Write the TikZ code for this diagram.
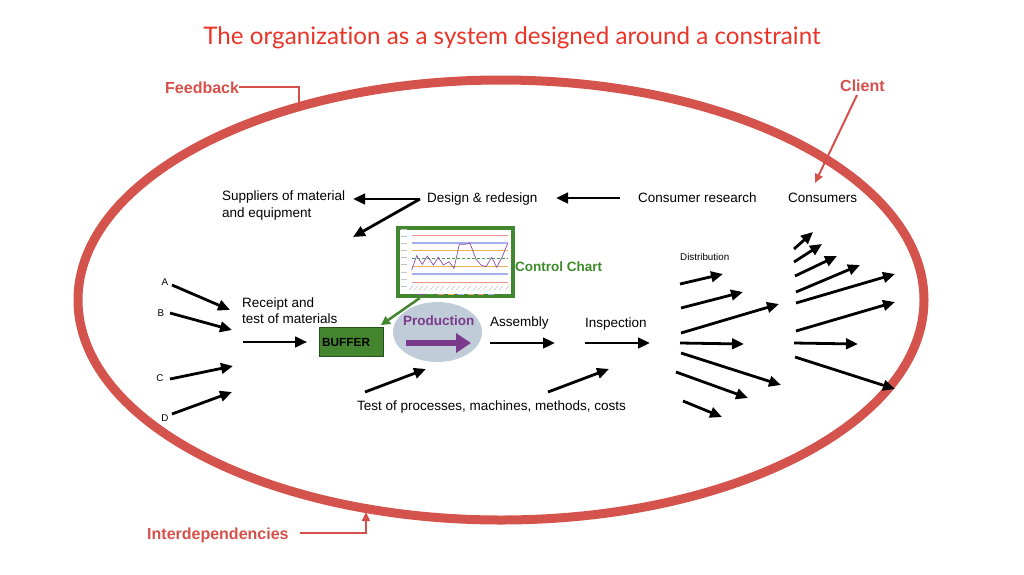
\documentclass[tikz,border=0pt]{standalone}
\usepackage{fontspec}
\setmainfont{Liberation Sans}
\newfontfamily\titlefont[Ligatures={NoCommon,NoDiscretionary}]{Lato}
\usetikzlibrary{arrows.meta,calc,shapes.geometric}
\definecolor{ellred}{RGB}{213,83,77}
\definecolor{lblred}{RGB}{214,80,74}
\definecolor{titlered}{RGB}{234,52,40}
\definecolor{chartgreen}{RGB}{66,135,48}
\definecolor{ctrlgreen}{RGB}{62,138,42}
\definecolor{bufgreen}{RGB}{67,134,47}
\definecolor{bufborder}{RGB}{40,80,30}
\definecolor{prodfill}{RGB}{192,205,216}
\definecolor{prodpurple}{RGB}{123,58,140}
\definecolor{gridred}{RGB}{238,150,140}
\definecolor{gridblue}{RGB}{165,175,235}
\definecolor{gridorange}{RGB}{238,175,95}
\definecolor{gridgreen}{RGB}{70,160,70}
\definecolor{seriespurple}{RGB}{140,80,170}
\begin{document}
\begin{tikzpicture}[x=1pt,y=-1pt,
  lbl/.style={inner sep=0pt, font=\fontsize{13.5}{16.5}\selectfont, anchor=base west},
  smalllbl/.style={inner sep=0pt, font=\fontsize{9.8}{11}\selectfont},
  redlbl/.style={inner sep=0pt, font=\fontsize{16}{19}\selectfont\bfseries, text=lblred, anchor=base west},
  arr/.style={line width=2.8pt, -{Triangle[length=12pt,width=10.5pt]}},
  redline/.style={line width=2pt, draw=lblred},
  redarr/.style={redline, -{Triangle[length=9pt,width=8pt]}},
  greenarr/.style={line width=2.5pt, draw=chartgreen, -{Triangle[length=9pt,width=9pt]}, fill=chartgreen},
  chartbox/.style={draw=chartgreen, line width=4pt, minimum width=115pt, minimum height=68pt, inner sep=0pt, fill=white},
  bufferbox/.style={draw=bufborder, line width=0.8pt, fill=bufgreen, minimum width=64pt, minimum height=29pt, inner sep=0pt},
  prodell/.style={fill=prodfill, ellipse, minimum width=89pt, minimum height=60pt, inner sep=0pt}
]
\useasboundingbox (0,0) rectangle (1024,574);

% title
\node[inner sep=0pt, font=\titlefont\fontsize{24.2}{28}\selectfont, text=titlered] (title) at (512,38) {The organizat\kern0pt ion as a system designed around a constraint};

% big ellipse
\draw[draw=ellred, line width=9pt] (501,300) ellipse [x radius=423pt, y radius=220pt];

% red labels
\node[redlbl] (fb) at (165,93) {Feedback};
\node[redlbl] (client) at (840,91) {Client};
\node[redlbl] (inter) at (147,539) {Interdependencies};
\coordinate (fbend) at (299,110);
\draw[redline] (fb.east) -| (fbend);
\coordinate (clientstart) at (857,95);
\coordinate (clientend) at (815,183);
\draw[redarr] (clientstart) -- (clientend);
\coordinate (interstart) at (300,533);
\coordinate (interend) at (366,512);
\draw[redarr] (interstart) -| (interend);

% top row texts
\node[inner sep=0pt, font=\fontsize{13.5}{16.5}\selectfont, align=left, anchor=north west] (suppliers) at (222,191) {Suppliers of material\\and equipment};
\node[lbl] (design) at (427,202) {Design \& redesign};
\node[lbl] (research) at (638,202) {Consumer research};
\node[lbl] (consumers) at (788,202) {Consumers};

\coordinate (dsgstart) at (420,199);
\coordinate (suppend) at (353,199);
\coordinate (downend) at (353,237);
\draw[arr] (dsgstart) -- (suppend);
\draw[arr] (dsgstart) -- (downend);
\coordinate (resstart) at (620,198);
\coordinate (resend) at (556,198);
\draw[arr] (resstart) -- (resend);

% control chart
\node[chartbox] (chart) at (455.5,262) {};
\begin{scope}[line width=0.9pt]
  \draw[gridred] (412,235) -- (508,235);
  \draw[gridred] (412,282) -- (508,282);
  \draw[gridblue, line width=1.3pt] (412,243) -- (508,243);
  \draw[gridblue, line width=1.3pt] (412,274) -- (508,274);
  \draw[gridorange] (412,250) -- (508,250);
  \draw[gridorange] (412,266) -- (508,266);
  \draw[gridgreen, densely dashed] (412,258) -- (508,258);
  \draw[seriespurple, line width=0.7pt] plot coordinates {(411.7,270) (416.7,255.7) (422.3,264.3) (427.3,256) (433.3,265) (438.3,257.3) (443.3,265) (449,261.7) (454,268.3) (459.3,244.3) (465,244.3) (470,243.3) (476,259) (481,265) (486,266.7) (491.7,257.3) (496.7,267.3) (502.3,256.7) (507.7,243.3)};
  \foreach \yy in {229,236,243,250,257,264.5,272,279,286.5}
    \draw[gray!45, line width=0.6pt] (401,\yy) -- (407,\yy);
  \foreach \xx in {412,417,422,427,433,438,443,449,454,459,465,470,476,481,486,492,497,502,508}
    \draw[gray!45, line width=0.5pt] (\xx-3,290) -- (\xx+1,286);
  \foreach \xx/\cc in {418/seriespurple,428/gridgreen,438/gridred,448/gridorange,458/gridblue,468/gridorange,478/gridred,488/gridblue}
    \draw[\cc, line width=0.8pt] (\xx,294) -- (\xx+6,294);
\end{scope}
\node[inner sep=0pt, font=\fontsize{13.5}{16}\selectfont\bfseries, text=ctrlgreen, anchor=base west] (ctrl) at (515,271) {Control Chart};

% buffer
\node[bufferbox] (buffer) at (351.5,342) {};
\node[inner sep=0pt, font=\fontsize{11.8}{14}\selectfont\bfseries, anchor=west] (buftext) at (322,342) {BUFFER};
\draw[greenarr] ($(chart.south west)!0.2!(chart.south east)$) -- ([shift={(-3pt,2pt)}]buffer.north east);

% production
\node[prodell] (prod) at (437.5,332) {};
\node[inner sep=0pt, font=\fontsize{13.5}{16}\selectfont\bfseries, text=prodpurple, anchor=base west] (prodtext) at (403,325) {Production};
\coordinate (pstart) at (406,343);
\coordinate (pend) at (471,343);
\draw[prodpurple, line width=6pt, -{Triangle[length=15pt,width=19pt]}] (pstart) -- (pend);

% middle row
\node[inner sep=0pt, font=\fontsize{13.5}{16.5}\selectfont, align=left, anchor=north west] (receipt) at (242,297.5) {Receipt and\\test of materials};
\node[lbl] (assembly) at (490,326) {Assembly};
\node[lbl] (inspection) at (585,327) {Inspection};
\node[lbl] (test) at (357,410) {Test of processes, machines, methods, costs};
\node[smalllbl, anchor=base west] (distribution) at (680,260.5) {Distribution};

\node[smalllbl] (A) at (165,282) {A};
\node[smalllbl] (B) at (161,313) {B};
\node[smalllbl] (C) at (160,378) {C};
\node[smalllbl] (D) at (165,418) {D};

\coordinate (rcstart) at (243,342);
\draw[arr] (rcstart) -- ([xshift=-12pt]buffer.west);

\foreach \n/\sx/\sy/\ex/\ey in {
  a/172/285/230/310, b/170/313/232/330, c/170/379/233/366, d/172/414/232/392,
  ts/365/392/426/369, tt/548/392/609/369,
  as/490/343/555/343, in/585/343/650/343,
  da/680/284/723/274, db/681/308/743/292, dc/681/333/779/304, dd/680/343/744/344,
  de/681/353/781/385, df/676/372/748/398, dg/683/401/722/417,
  ca/794/249/813/232, cb/794/262/822/244, cc/795/276/837/256, cd/796/292/860/265,
  ce/796/303/895/274, cf/796/331/895/302, cg/794/343/858/344, ch/795/357/895/389}{
  \coordinate (\n-s) at (\sx,\sy);
  \coordinate (\n-e) at (\ex,\ey);
  \draw[arr] (\n-s) -- (\n-e);
}
\end{tikzpicture}
\end{document}
